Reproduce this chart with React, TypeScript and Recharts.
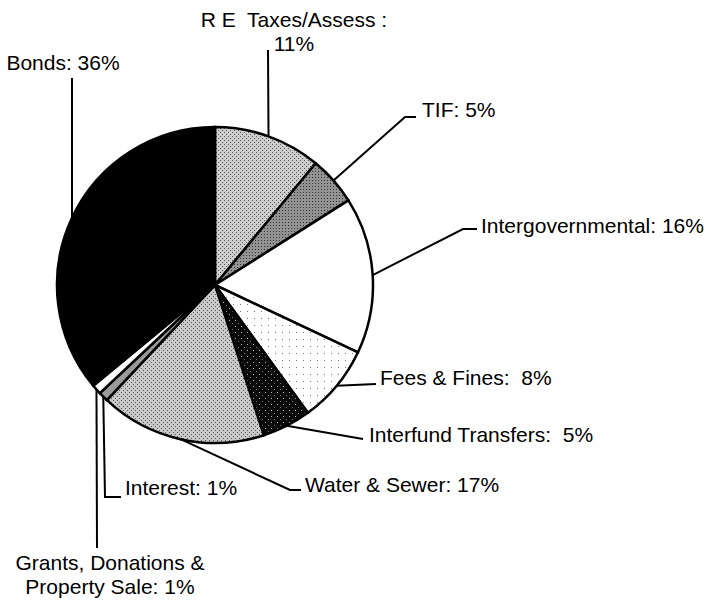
import { PieChart, Pie, Cell } from "recharts";

// revenue share by source, clockwise from 12 o'clock
const categories = [
  "R E  Taxes/Assess :\n",
  "TIF:",
  "Intergovernmental:",
  "Fees & Fines: ",
  "Interfund Transfers: ",
  "Water & Sewer:",
  "Interest:",
  "Grants, Donations &\nProperty Sale:",
  "Bonds:",
];
const shares = [11, 5, 16, 8, 5, 17, 1, 1, 36];

const fills = [
  "url(#reTax)",
  "url(#tif)",
  "#ffffff",
  "url(#fees)",
  "url(#interfund)",
  "url(#water)",
  "#9a9a9a",
  "#ffffff",
  "#000000",
];

// leader bends and label anchors
const leaders = [
  { path: [[268, 50]], x: 294, y: 27, anchor: "middle" },
  { path: [[405, 117], [416, 117]], x: 422, y: 117, anchor: "start" },
  { path: [[463, 229], [477, 229]], x: 481, y: 233, anchor: "start" },
  { path: [[376, 384]], x: 380, y: 385, anchor: "start" },
  { path: [[363, 439]], x: 369, y: 442, anchor: "start" },
  { path: [[290, 490], [301, 490]], x: 305, y: 492, anchor: "start" },
  { path: [[105, 497], [121, 497]], x: 125, y: 495, anchor: "start" },
  { path: [[97, 548]], x: 110, y: 570, anchor: "middle" },
  { path: [[72, 78]], x: 63, y: 70, anchor: "middle" },
];

const data = categories.map((name, i) => ({ name, value: shares[i] }));

const labelText = (name: string, v: number) =>
  (name.endsWith("\n") ? name + v + "%" : name + " " + v + "%").split("\n");

const renderLabel = (props: any) => {
  const { cx, cy, midAngle, outerRadius, index, name, value } = props;
  const a = (-midAngle * Math.PI) / 180;
  const sx = cx + outerRadius * Math.cos(a);
  const sy = cy + outerRadius * Math.sin(a);
  const l = leaders[index];
  const pts = [[sx, sy], ...l.path].map((p) => p.join(",")).join(" ");
  const lines = labelText(name, value);
  return (
    <g key={"lbl" + index}>
      <polyline points={pts} fill="none" stroke="#000" strokeWidth={2} />
      <text
        x={l.x}
        y={l.y}
        textAnchor={l.anchor as any}
        fontSize={21}
        fontFamily="'Liberation Sans', Arial, sans-serif"
        fill="#000"
        style={{ whiteSpace: "pre" }}
      >
        {lines.map((t, k) => (
          <tspan key={k} x={l.x} dy={k === 0 ? 0 : 24}>
            {t}
          </tspan>
        ))}
      </text>
    </g>
  );
};

export default function App() {
  return (
    <div style={{ background: "#fff", width: 718, height: 603 }}>
      <style>{"body{margin:0}"}</style>
      <PieChart width={718} height={603} margin={{ top: 0, right: 0, bottom: 0, left: 0 }}>
        <defs>
          <pattern id="reTax" width="4" height="4" patternUnits="userSpaceOnUse">
            <rect width="4" height="4" fill="#cdcdcd" />
            <rect x="0" y="0" width="1" height="1" fill="#555" />
            <rect x="2" y="2" width="1" height="1" fill="#555" />
          </pattern>
          <pattern id="water" width="4" height="4" patternUnits="userSpaceOnUse">
            <rect width="4" height="4" fill="#c9c9c9" />
            <rect x="1" y="0" width="1" height="1" fill="#555" />
            <rect x="3" y="2" width="1" height="1" fill="#555" />
          </pattern>
          <pattern id="tif" width="3" height="3" patternUnits="userSpaceOnUse">
            <rect width="3" height="3" fill="#929292" />
            <rect x="0" y="0" width="1" height="1" fill="#333" />
          </pattern>
          <pattern id="fees" width="7" height="7" patternUnits="userSpaceOnUse">
            <rect width="7" height="7" fill="#fff" />
            <rect x="2" y="3" width="1" height="1" fill="#777" />
          </pattern>
          <pattern id="interfund" width="6" height="6" patternUnits="userSpaceOnUse">
            <rect width="6" height="6" fill="#0a0a0a" />
            <rect x="1" y="2" width="1" height="1" fill="#bbb" />
            <rect x="4" y="5" width="1" height="1" fill="#777" />
          </pattern>
        </defs>
        <Pie
          data={data}
          dataKey="value"
          nameKey="name"
          cx={215}
          cy={285}
          outerRadius={158}
          startAngle={90}
          endAngle={-270}
          label={renderLabel}
          labelLine={false}
          stroke="#000"
          strokeWidth={2.5}
          isAnimationActive={false}
        >
          {data.map((d, i) => (
            <Cell key={d.name} fill={fills[i]} />
          ))}
        </Pie>
      </PieChart>
    </div>
  );
}
